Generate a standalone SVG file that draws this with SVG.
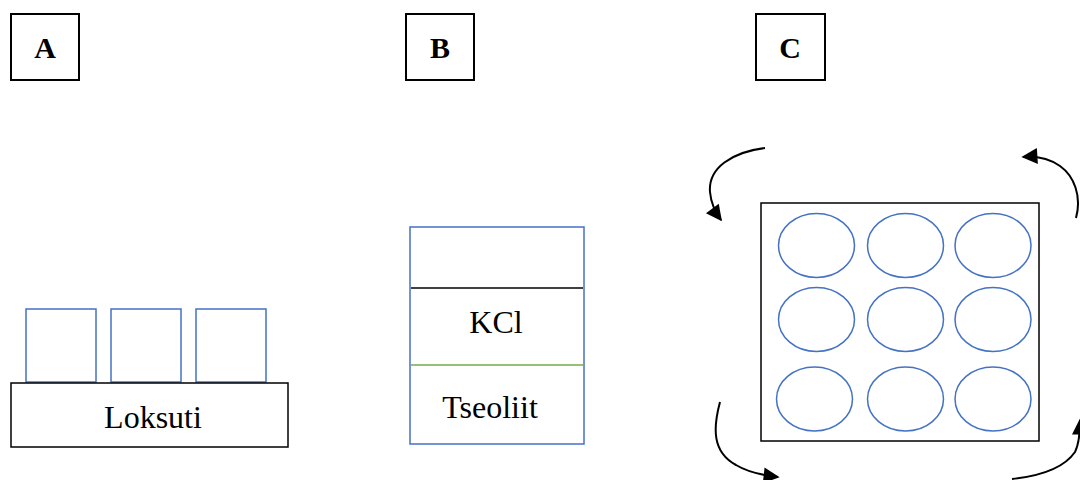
<svg xmlns="http://www.w3.org/2000/svg" width="1080" height="480" viewBox="0 0 1080 480">
<style>
.box{fill:#fff;stroke:#000;stroke-width:2}
.thin{fill:#fff;stroke:#000;stroke-width:1.5}
.blue{fill:#fff;stroke:#4472C4;stroke-width:1.5}
.ell{fill:none;stroke:#4472C4;stroke-width:1.5}
.lbl{font-weight:bold;font-size:30px;text-anchor:middle;fill:#000}
.txt{font-size:32px;text-anchor:middle;fill:#000}
.arr{fill:none;stroke:#000;stroke-width:2;marker-end:url(#ah)}
</style>
<defs>
<marker id="ah" viewBox="0 0 10 10" refX="9" refY="5" markerWidth="18" markerHeight="16" markerUnits="userSpaceOnUse" orient="auto">
<path d="M0,0 L10,5 L0,10 z" fill="#000"/>
</marker>
</defs>
<rect width="1080" height="480" fill="#fff"/>
<g font-family="Liberation Serif, DejaVu Serif, serif">
<g id="labelA"><rect class="box" x="11" y="14" width="68" height="66"/><text class="lbl" x="45" y="58">A</text></g>
<g id="labelB"><rect class="box" x="406" y="14" width="68" height="66"/><text class="lbl" x="440" y="58">B</text></g>
<g id="labelC"><rect class="box" x="756" y="14" width="69" height="66"/><text class="lbl" x="790" y="58">C</text></g>

<g id="panelA">
<rect class="blue" x="26" y="309" width="70" height="73"/>
<rect class="blue" x="111" y="309" width="70" height="73"/>
<rect class="blue" x="196" y="309" width="70" height="73"/>
<rect class="thin" x="11" y="383" width="277" height="64"/>
<text class="txt" x="153" y="428">Loksuti</text>
</g>

<g id="panelB">
<rect class="blue" x="410" y="227" width="174" height="217"/>
<line x1="411" y1="288" x2="583" y2="288" stroke="#000" stroke-width="1.5"/>
<line x1="411" y1="365" x2="583" y2="365" stroke="#70AD47" stroke-width="1.5"/>
<text class="txt" x="496" y="333">KCl</text>
<text class="txt" x="490" y="418">Tseoliit</text>
</g>
</g>

<g id="panelC">
<rect class="thin" x="761" y="203" width="278" height="238"/>
<ellipse class="ell" cx="816.5" cy="245.5" rx="38" ry="32"/>
<ellipse class="ell" cx="905.5" cy="245.5" rx="38" ry="32"/>
<ellipse class="ell" cx="993" cy="245.5" rx="38" ry="32"/>
<ellipse class="ell" cx="816.5" cy="319.5" rx="38" ry="32"/>
<ellipse class="ell" cx="905.5" cy="319.5" rx="38" ry="32"/>
<ellipse class="ell" cx="993" cy="319.5" rx="38" ry="32"/>
<ellipse class="ell" cx="814.5" cy="399" rx="38" ry="32"/>
<ellipse class="ell" cx="905.5" cy="399" rx="38" ry="32"/>
<ellipse class="ell" cx="993" cy="399" rx="38" ry="32"/>
</g>

<g id="connectors">
<path class="arr" d="M765,148 C732,152 708,168 710,192 C711,203 715,212 721,220"/>
<path class="arr" d="M1076,218 C1082,196 1074,176 1060,166 C1050,159 1038,156 1023,157"/>
<path class="arr" d="M720,402 C713,428 712,452 736,465 C746,471 760,475 778,477"/>
<path class="arr" d="M1012,479 C1040,476 1064,468 1075,452 C1078,446 1080,436 1080,420"/>
</g>
</svg>
